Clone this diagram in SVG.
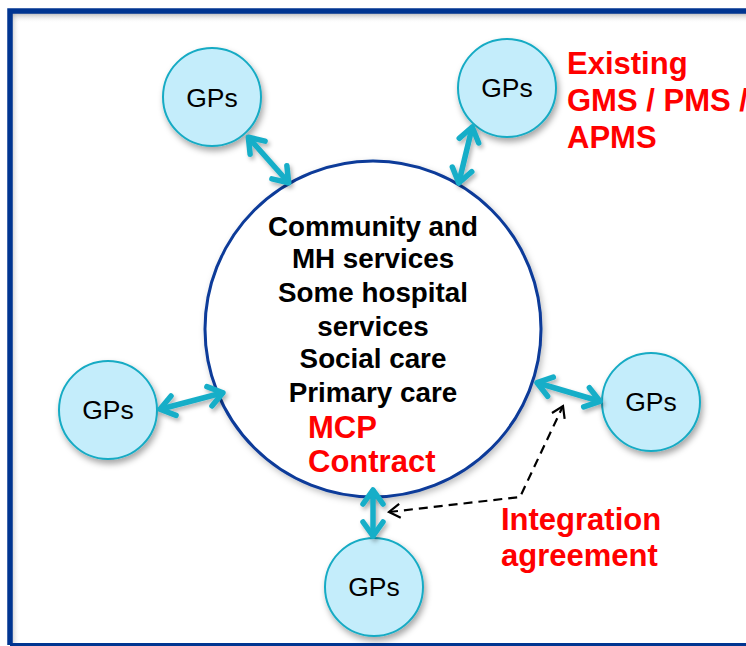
<svg xmlns="http://www.w3.org/2000/svg" width="746" height="646" viewBox="0 0 746 646">
<defs>
<style>
.gp circle{fill:#C4EDFB;stroke:#17ABC4;stroke-width:2;filter:url(#sh)}
.gp text{font-family:"Liberation Sans",Arial,sans-serif;font-size:26.5px;fill:#000;text-anchor:middle}
.blk{font-family:"Liberation Sans",Arial,sans-serif;font-weight:bold;font-size:27.8px;fill:#000;text-anchor:middle}
.red{font-family:"Liberation Sans",Arial,sans-serif;font-weight:bold;font-size:31px;fill:#FF0000}
.arr{stroke:#18AEC8;stroke-width:5.5;fill:none;stroke-linecap:round;marker-start:url(#ah);marker-end:url(#ah);filter:url(#sh2)}
.dash{stroke:#000;stroke-width:2.2;fill:none;stroke-dasharray:9 6}
</style>
<filter id="sh" x="-30%" y="-30%" width="160%" height="160%">
<feDropShadow dx="2" dy="4" stdDeviation="3" flood-color="#000" flood-opacity="0.35"/>
</filter>
<filter id="sh2" filterUnits="userSpaceOnUse" x="0" y="0" width="746" height="646">
<feDropShadow dx="2" dy="3" stdDeviation="2" flood-color="#000" flood-opacity="0.3"/>
</filter>
<filter id="sh3" x="-10%" y="-10%" width="120%" height="120%">
<feDropShadow dx="2" dy="3" stdDeviation="3" flood-color="#000" flood-opacity="0.25"/>
</filter>
<linearGradient id="gt" x1="0" y1="0" x2="0" y2="1">
<stop offset="0" stop-color="#888" stop-opacity="0.6"/>
<stop offset="1" stop-color="#fff" stop-opacity="0"/>
</linearGradient>
<linearGradient id="gl" x1="0" y1="0" x2="1" y2="0">
<stop offset="0" stop-color="#888" stop-opacity="0.4"/>
<stop offset="1" stop-color="#fff" stop-opacity="0"/>
</linearGradient>
<marker id="ah" viewBox="-20 -14 26 28" markerWidth="26" markerHeight="28" refX="0" refY="0" orient="auto-start-reverse" markerUnits="userSpaceOnUse">
<path d="M -13 -10 L 1 0 L -13 10" fill="none" stroke="#18AEC8" stroke-width="5.5" stroke-linecap="round" stroke-linejoin="round"/>
</marker>
<marker id="dh" viewBox="-14 -10 18 20" markerWidth="18" markerHeight="20" refX="0" refY="0" orient="auto-start-reverse" markerUnits="userSpaceOnUse">
<path d="M -11 -7 L 0 0 L -11 7" fill="none" stroke="#000" stroke-width="2.2"/>
</marker>
</defs>
<rect width="746" height="646" fill="#fff"/>
<g id="frame">
<rect x="12" y="13" width="740" height="10" fill="url(#gt)"/>
<rect x="12" y="13" width="8" height="630" fill="url(#gl)"/>
<path d="M 10 645 L 10 11 L 750 11" fill="none" stroke="#003591" stroke-width="5.5"/>
<line x1="10" y1="644.5" x2="750" y2="644.5" stroke="#003591" stroke-width="3"/>
</g>
<g id="main">
<circle cx="373" cy="329" r="168" fill="#fff" stroke="#0A3A99" stroke-width="3" filter="url(#sh3)"/>
<text class="blk" x="373" y="236">Community and</text>
<text class="blk" x="373" y="268">MH services</text>
<text class="blk" x="373" y="302">Some hospital</text>
<text class="blk" x="373" y="336">services</text>
<text class="blk" x="373" y="368">Social care</text>
<text class="blk" x="373" y="402">Primary care</text>
<text class="red" x="308" y="438">MCP</text>
<text class="red" x="308" y="472">Contract</text>
</g>
<g id="gp-tl" class="gp"><circle cx="212" cy="97" r="49"/><text x="212" y="107">GPs</text></g>
<g id="gp-tr" class="gp"><circle cx="507" cy="88" r="49"/><text x="507" y="97">GPs</text></g>
<g id="gp-l" class="gp"><circle cx="108" cy="410" r="49"/><text x="108" y="419">GPs</text></g>
<g id="gp-r" class="gp"><circle cx="651" cy="402" r="49"/><text x="651" y="411">GPs</text></g>
<g id="gp-b" class="gp"><circle cx="374" cy="587" r="49"/><text x="374" y="596">GPs</text></g>
<g id="connectors">
<line class="arr" x1="249" y1="138" x2="288" y2="182"/>
<line class="arr" x1="472" y1="128" x2="459" y2="182"/>
<line class="arr" x1="161" y1="409" x2="222" y2="393"/>
<line class="arr" x1="538" y1="383" x2="599" y2="401"/>
<line class="arr" x1="373" y1="491" x2="373" y2="535"/>
<polyline class="dash" points="389,512 520,497 563,406" marker-start="url(#dh)" marker-end="url(#dh)"/>
</g>
<g id="labels">
<text class="red" x="567" y="74">Existing</text>
<text class="red" x="567" y="111">GMS / PMS /</text>
<text class="red" x="567" y="148">APMS</text>
<text class="red" x="501" y="530">Integration</text>
<text class="red" x="501" y="566">agreement</text>
</g>
</svg>
